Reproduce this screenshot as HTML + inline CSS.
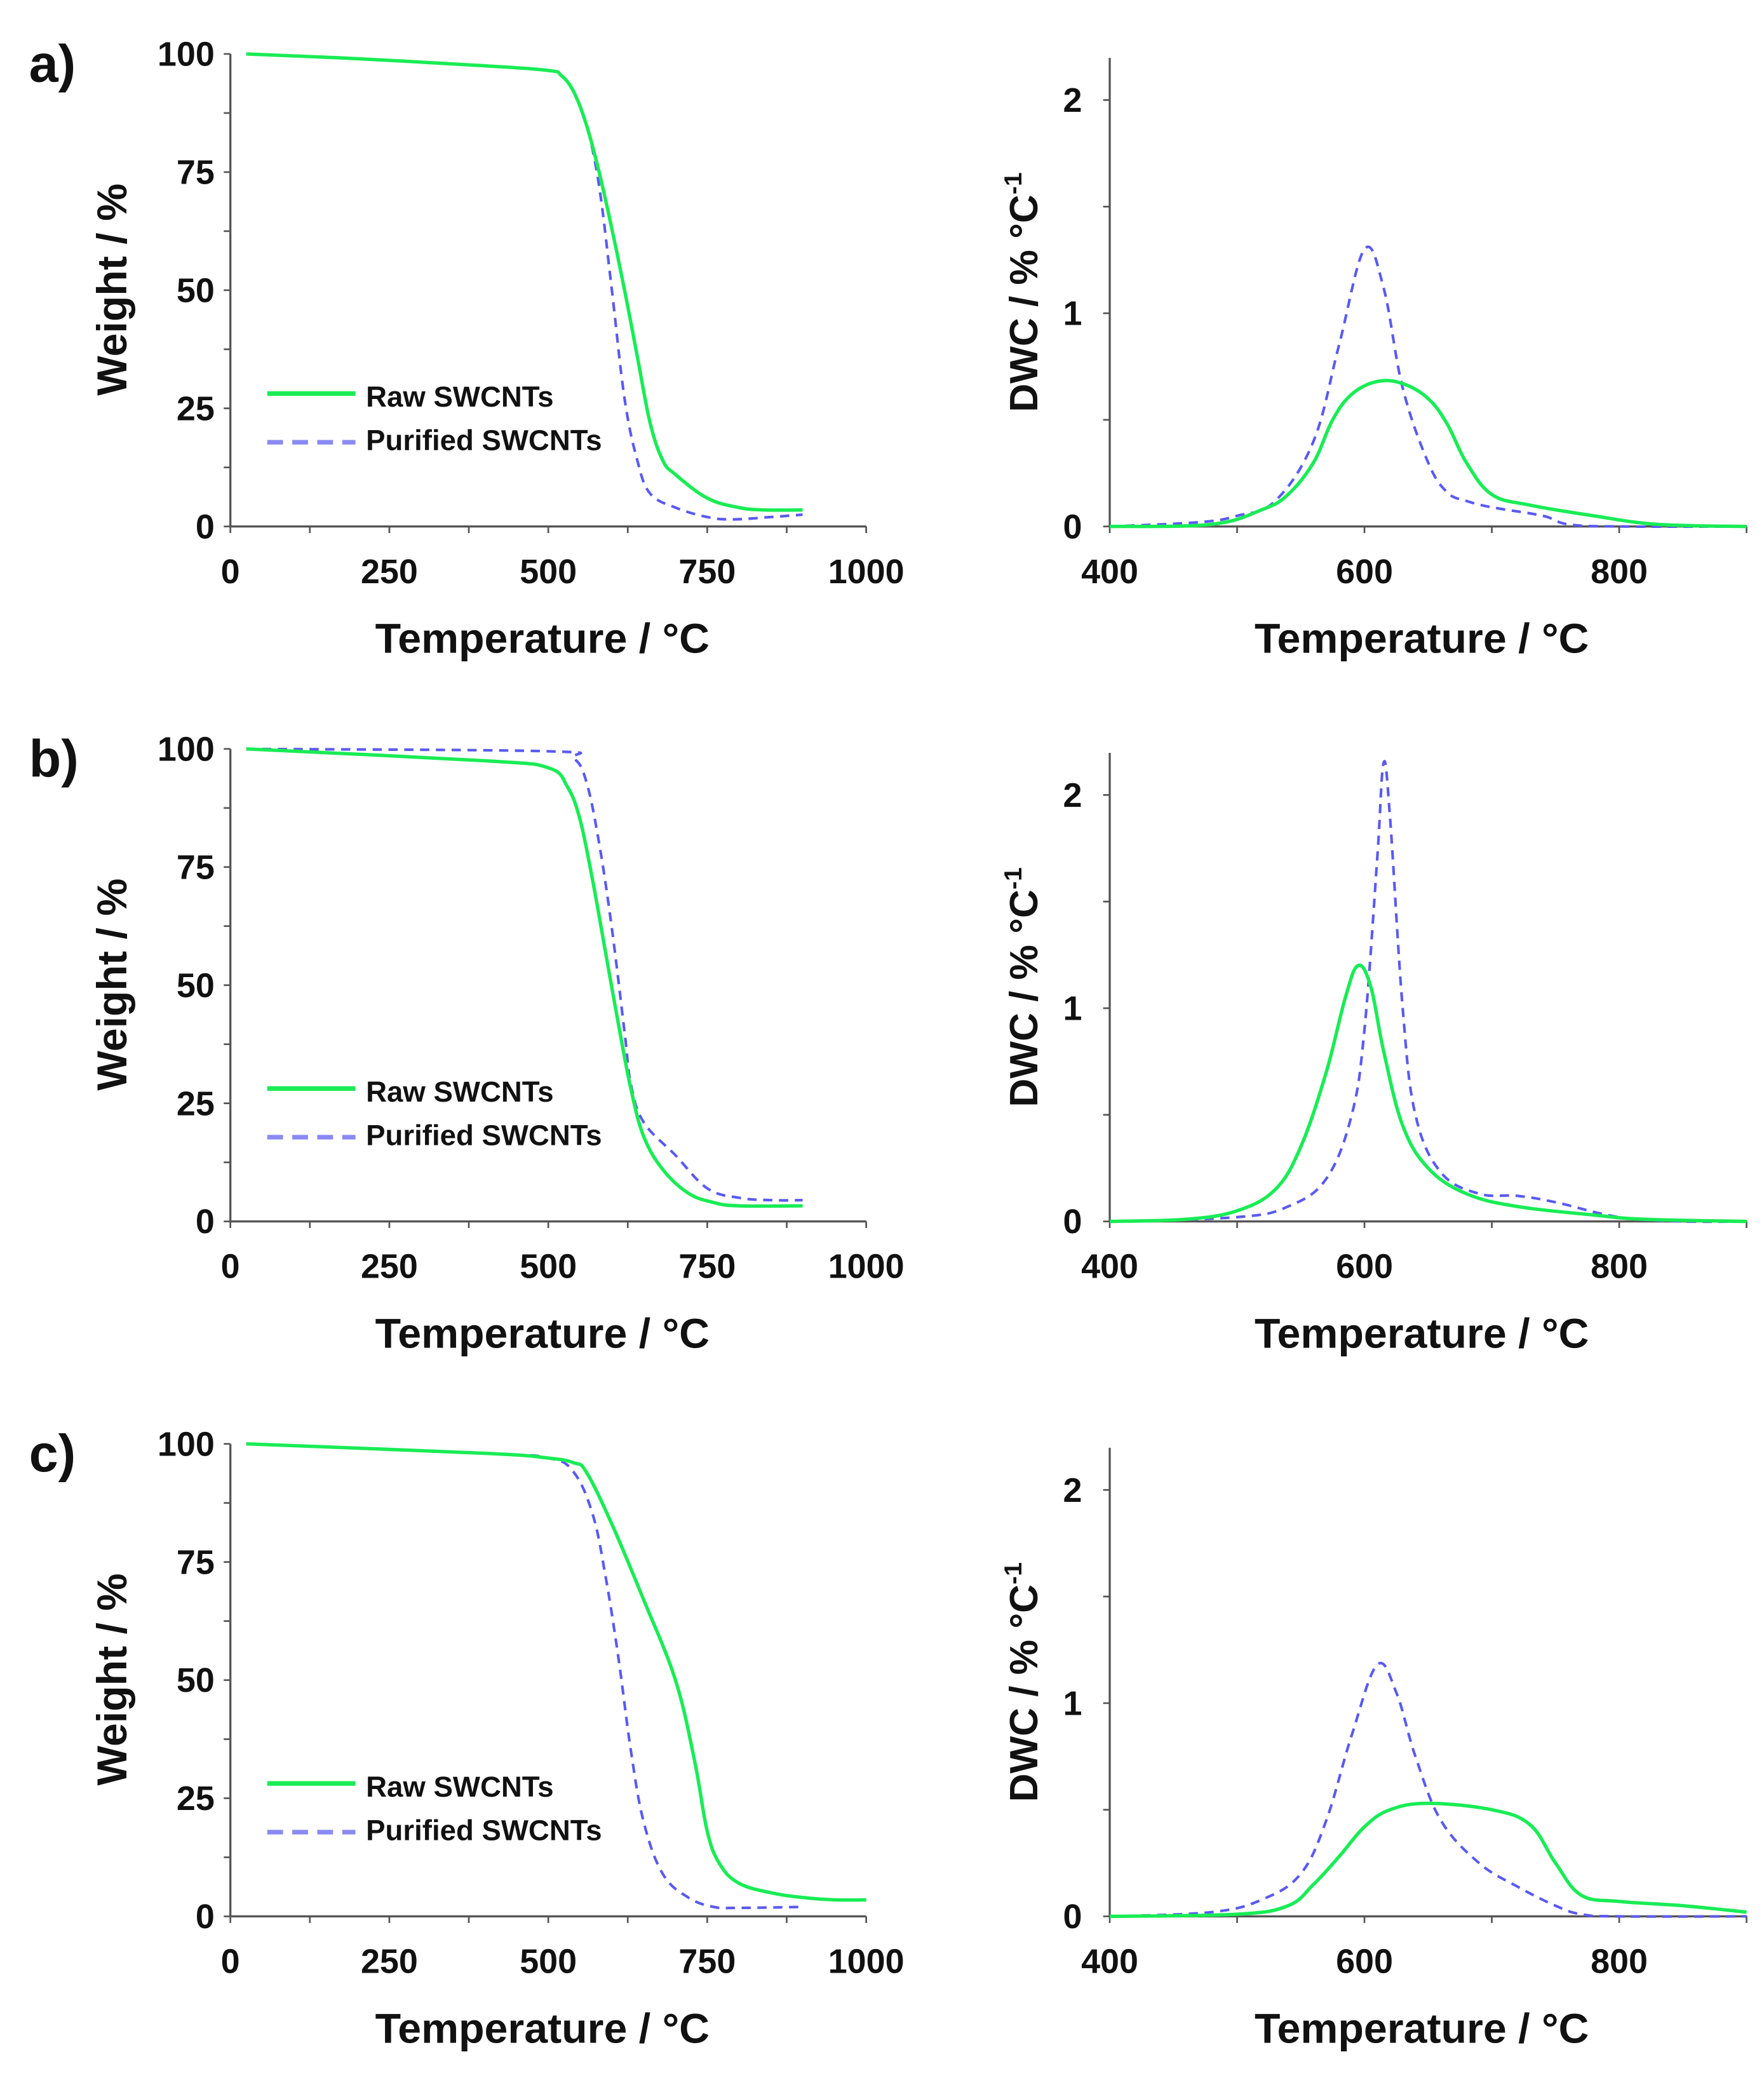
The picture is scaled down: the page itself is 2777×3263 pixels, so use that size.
<!DOCTYPE html>
<html><head><meta charset="utf-8"><style>
html,body{margin:0;padding:0;background:#fff}
svg{display:block}
text{font-family:"Liberation Sans",sans-serif;font-weight:bold;fill:#111}
</style></head><body>
<svg id="fig" width="2777" height="3263" viewBox="0 0 1340 1575" preserveAspectRatio="none" xmlns="http://www.w3.org/2000/svg"></svg>
<script>
// ---- data ----
const wTicksX = [0,250,500,750,1000];
const wTicksY = [0,25,50,75,100];
const dTicksX = [400,600,800];
const dTicksY = [0,1,2];
const panelLabels = ["a)","b)","c)"];
const seriesNames = ["Raw SWCNTs","Purified SWCNTs"];

const aRawT=[25,200,400,500,520,540,560,580,600,620,640,660,680,700,750,800,840,900];
const aRawW=[100,99,97.5,96.5,95.5,92,85,75,63,50,36,22,14,11,6,4,3.5,3.5];
const aPurT=[25,200,400,500,520,540,560,580,600,620,640,660,700,750,790,850,900];
const aPurW=[100,99,97.5,96.5,95.5,92,85,72,50,27,14,7,4,2,1.5,2,2.5];
const bRawT=[25,400,500,530,550,570,590,610,630,650,680,720,760,800,900];
const bRawW=[100,97.5,96,92,85,72,57,42,28,18,11,6,4,3.3,3.3];
const bPurT=[25,500,540,560,580,600,620,630,650,700,750,800,850,900];
const bPurW=[100,99.5,98,93,80,62,40,29,21,14,7,5,4.5,4.5];
const cRawT=[25,400,500,540,560,600,650,700,730,750,770,800,850,900,950,1000];
const cRawW=[100,98,97,96,94,83,67,50,33,18,11,7,5,4,3.5,3.5];
const cPurT=[25,400,500,540,570,590,610,630,650,680,720,760,800,900];
const cPurW=[100,98,97,94,85,72,55,35,20,9,4,2,1.8,2];

const daRawT=[400,480,520,540,560,575,590,610,630,650,665,680,700,730,780,830,900];
const daRawD=[0,0.01,0.08,0.15,0.3,0.5,0.62,0.68,0.67,0.6,0.48,0.3,0.15,0.1,0.05,0.01,0];
const daPurT=[400,470,500,530,560,580,600,615,630,650,665,680,700,740,760,800,900];
const daPurD=[0,0.02,0.05,0.12,0.4,0.85,1.3,1.12,0.65,0.3,0.16,0.12,0.09,0.05,0.01,0,0];
const dbRawT=[400,460,500,530,550,570,585,595,605,615,630,650,680,720,780,820,900];
const dbRawD=[0,0.01,0.05,0.15,0.35,0.7,1.05,1.2,1.1,0.8,0.45,0.25,0.13,0.07,0.03,0.01,0];
const dbPurT=[400,500,540,570,590,600,610,615,620,630,640,660,690,720,750,800,850,900];
const dbPurD=[0,0.02,0.07,0.2,0.5,0.9,1.7,2.15,1.9,1.0,0.5,0.23,0.13,0.12,0.09,0.02,0,0];
const dcRawT=[400,500,540,560,580,600,620,650,700,730,750,770,800,850,900];
const dcRawD=[0,0.01,0.05,0.15,0.28,0.42,0.5,0.53,0.5,0.43,0.25,0.1,0.07,0.05,0.02];
const dcPurT=[400,480,520,550,570,590,610,625,640,660,690,720,750,770,800,900];
const dcPurD=[0,0.02,0.08,0.2,0.45,0.85,1.18,1.05,0.75,0.45,0.25,0.14,0.05,0.01,0,0];

const weightSets=[[aRawT,aRawW,aPurT,aPurW],[bRawT,bRawW,bPurT,bPurW],[cRawT,cRawW,cPurT,cPurW]];
const dwcSets=[[daRawT,daRawD,daPurT,daPurD],[dbRawT,dbRawD,dbPurT,dbPurD],[dcRawT,dcRawD,dcPurT,dcPurD]];

const NS="http://www.w3.org/2000/svg";
const svg=document.getElementById('fig');
function el(tag,attrs,parent){const e=document.createElementNS(NS,tag);for(const k in attrs)e.setAttribute(k,attrs[k]);(parent||svg).appendChild(e);return e;}
function smoothPath(pts){
  let d=`M${pts[0][0]},${pts[0][1]}`;
  for(let i=0;i<pts.length-1;i++){
    const p0=pts[Math.max(0,i-1)],p1=pts[i],p2=pts[i+1],p3=pts[Math.min(pts.length-1,i+2)];
    const t=0.18;
    const c1=[p1[0]+(p2[0]-p0[0])*t,p1[1]+(p2[1]-p0[1])*t];
    const c2=[p2[0]-(p3[0]-p1[0])*t,p2[1]-(p3[1]-p1[1])*t];
    d+=` C${c1[0]},${c1[1]} ${c2[0]},${c2[1]} ${p2[0]},${p2[1]}`;
  }
  return d;
}
const GREEN="#19ec55", BLUE="#5a5af0";

for(let p=0;p<3;p++){
  const off=p*528;
  const g=el('g',{});
  
  
  const x0=175,x1=658,yb=400+off,yt=41+off;
  const sx=v=>x0+(v/1000)*(x1-x0);
  const sy=v=>yb-(v/100)*(yb-yt);
  const lab=el('text',{x:22,y:62+off,'font-size':40},g);lab.textContent=panelLabels[p];
  
  const ax=el('path',{d:`M${x0},${yt} V${yb} H${x1}`,stroke:'#555',fill:'none','stroke-width':1.6},g);
  
  for(let v=0;v<=100;v+=12.5) el('line',{x1:x0-5,x2:x0,y1:sy(v),y2:sy(v),stroke:'#555','stroke-width':1.3},g);
  for(let v=0;v<=1000;v+=125) el('line',{x1:sx(v),x2:sx(v),y1:yb,y2:yb+5,stroke:'#555','stroke-width':1.3},g);
  wTicksY.forEach(v=>{const t=el('text',{x:163,y:sy(v)+9,'font-size':26,'text-anchor':'end'},g);t.textContent=v;
    });
  wTicksX.forEach(v=>{const t=el('text',{x:sx(v),y:yb+43,'font-size':26,'text-anchor':'middle'},g);t.textContent=v;
    });
  const xt=el('text',{x:412,y:yb+96,'font-size':32,'text-anchor':'middle'},g);xt.textContent='Temperature / °C';
  
  const yt2=el('text',{x:0,y:0,'font-size':32,'text-anchor':'middle',transform:`translate(96,${220+off}) rotate(-90)`},g);yt2.textContent='Weight / %';
  
  const [rT,rW,pT,pW]=weightSets[p];
  const l1=el('path',{d:smoothPath(pT.map((t,i)=>[sx(t),sy(pW[i])])),stroke:BLUE,fill:'none','stroke-width':2,'stroke-dasharray':'7,5'},g);
  
  const l2=el('path',{d:smoothPath(rT.map((t,i)=>[sx(t),sy(rW[i])])),stroke:GREEN,fill:'none','stroke-width':2.6},g);
  
  const lg=el('g',{},g);
  el('line',{x1:203,x2:270,y1:299+off,y2:299+off,stroke:GREEN,'stroke-width':3.5},lg);
  el('line',{x1:203,x2:270,y1:336+off,y2:336+off,stroke:BLUE,'stroke-width':3.5,'stroke-dasharray':'12,7','opacity':0.7},lg);
  const e1=el('text',{x:278,y:309+off,'font-size':22},lg);e1.textContent=seriesNames[0];
  
  const e2=el('text',{x:278,y:342+off,'font-size':22},lg);e2.textContent=seriesNames[1];
  

  const h=el('g',{});
  
  
  const X0=843,X1=1327,Yb=400+off,Ytop=44+off;
  const SX=v=>X0+(v-400)*(193.5/200);
  const SY=v=>Yb-v*162;
  const ax2=el('path',{d:`M${X0},${Ytop} V${Yb} H${X1}`,stroke:'#555',fill:'none','stroke-width':1.6},h);
  
  for(let v=0;v<=2;v+=0.5) el('line',{x1:X0-5,x2:X0,y1:SY(v),y2:SY(v),stroke:'#555','stroke-width':1.3},h);
  for(let v=400;v<=900;v+=100) el('line',{x1:SX(v),x2:SX(v),y1:Yb,y2:Yb+5,stroke:'#555','stroke-width':1.3},h);
  dTicksY.forEach(v=>{const t=el('text',{x:822,y:SY(v)+9,'font-size':26,'text-anchor':'end'},h);t.textContent=v;
    });
  dTicksX.forEach(v=>{const t=el('text',{x:SX(v),y:Yb+43,'font-size':26,'text-anchor':'middle'},h);t.textContent=v;
    });
  const xt3=el('text',{x:1080,y:Yb+96,'font-size':32,'text-anchor':'middle'},h);xt3.textContent='Temperature / °C';
  
  const yl=el('text',{x:0,y:0,'font-size':30,'text-anchor':'middle',transform:`translate(788,${222+off}) rotate(-90)`},h);
  yl.innerHTML='DWC / % °C<tspan dy="-12" font-size="19">-1</tspan>';
  
  const [drT,drD,dpT,dpD]=dwcSets[p];
  const m1=el('path',{d:smoothPath(dpT.map((t,i)=>[SX(t),SY(dpD[i])])),stroke:BLUE,fill:'none','stroke-width':2,'stroke-dasharray':'7,5'},h);
  
  const m2=el('path',{d:smoothPath(drT.map((t,i)=>[SX(t),SY(drD[i])])),stroke:GREEN,fill:'none','stroke-width':2.6},h);
  
}
</script>
</body></html>
